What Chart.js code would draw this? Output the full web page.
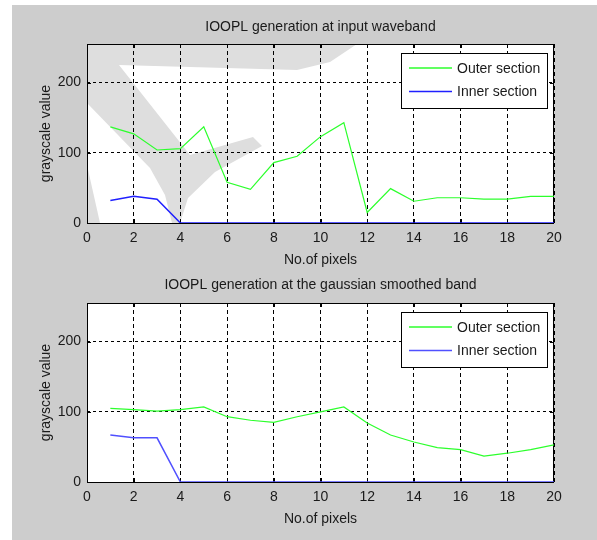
<!DOCTYPE html>
<html>
<head>
<meta charset="utf-8">
<script src="https://cdn.jsdelivr.net/npm/chart.js@4.4.1/dist/chart.umd.min.js"></script>
<style>
  html, body { margin: 0; padding: 0; background: #fff; }
  body { width: 597px; height: 540px; position: relative; overflow: hidden; }
  #figure { position: absolute; left: 12px; top: 5px; right: 0; bottom: 0; background: #cdcdcd; }
  canvas { position: absolute; left: 0; }
  #chartTop { top: 0; }
  #chartBottom { top: 270px; }
</style>
</head>
<body>
<div id="figure"></div>
<canvas id="chartTop" width="597" height="270"></canvas>
<canvas id="chartBottom" width="597" height="270"></canvas>
<script>
// values
const pixels = [1, 2, 3, 4, 5, 6, 7, 8, 9, 10, 11, 12, 13, 14, 15, 16, 17, 18, 19, 20];
const outerInput = [137, 127, 104, 106, 137, 58, 48, 86, 95, 123, 143, 15, 49, 31, 36, 36, 34, 34, 38, 38];
const innerInput = [32, 38, 34, 0, 0, 0, 0, 0, 0, 0, 0, 0, 0, 0, 0, 0, 0, 0, 0, 0];
const outerSmoothed = [105, 103, 101, 103, 107, 93, 88, 85, 93, 100, 107, 84, 67, 57, 49, 46, 37, 41, 46, 53];
const innerSmoothed = [67, 63, 63, 0, 0, 0, 0, 0, 0, 0, 0, 0, 0, 0, 0, 0, 0, 0, 0, 0];
const xTicks = [0, 2, 4, 6, 8, 10, 12, 14, 16, 18, 20];
const yTicks = [0, 100, 200];

const FONT = '"Liberation Sans", Arial, sans-serif';
Chart.defaults.font.family = FONT;
Chart.defaults.font.size = 14;
Chart.defaults.color = '#1a1a1a';

// faint watermark shapes that show through the upper axes (canvas px)
const markShapes = [
  [[87, 44], [357, 44], [330, 62], [297, 70], [119, 65], [190, 155], [253, 137], [262, 146],
   [215, 172], [188, 198], [180, 223], [172, 223], [165, 195], [150, 168], [87, 103]],
  [[87, 165], [100, 223], [87, 223]],
];

// white axes background, solid box and inward ticks like matlab
const axesBox = {
  id: 'axesBox',
  beforeDraw(chart, args, opts) {
    const { ctx, chartArea: a } = chart;
    ctx.save();
    ctx.fillStyle = '#fff';
    ctx.fillRect(a.left, a.top, a.width, a.height);
    if (opts.mark) {
      ctx.beginPath();
      ctx.rect(a.left, a.top, a.width, a.height);
      ctx.clip();
      ctx.fillStyle = '#dedede';
      opts.mark.forEach(poly => {
        ctx.beginPath();
        poly.forEach(([px, py], i) => (i ? ctx.lineTo(px, py) : ctx.moveTo(px, py)));
        ctx.closePath();
        ctx.fill();
      });
    }
    ctx.restore();
  },
  beforeDatasetsDraw(chart) {
    const { ctx, chartArea: a, scales: { x, y } } = chart;
    ctx.save();
    ctx.strokeStyle = '#000';
    ctx.lineWidth = 1;
    ctx.setLineDash([]);
    ctx.beginPath();
    x.ticks.forEach(t => {
      const px = Math.round(x.getPixelForValue(t.value)) + 0.5;
      ctx.moveTo(px, a.bottom); ctx.lineTo(px, a.bottom - 4);
      ctx.moveTo(px, a.top); ctx.lineTo(px, a.top + 4);
    });
    y.ticks.forEach(t => {
      const py = Math.round(y.getPixelForValue(t.value)) + 0.5;
      ctx.moveTo(a.left, py); ctx.lineTo(a.left + 4, py);
      ctx.moveTo(a.right, py); ctx.lineTo(a.right - 4, py);
    });
    ctx.stroke();
    ctx.strokeRect(Math.round(a.left) + 0.5, Math.round(a.top) + 0.5,
      Math.round(a.width) - 1, Math.round(a.height));
    ctx.restore();
  }
};

// boxed legend in the upper right corner of the axes
const boxLegend = {
  id: 'boxLegend',
  afterDatasetsDraw(chart) {
    const { ctx, chartArea: a } = chart;
    const sets = chart.data.datasets;
    ctx.save();
    ctx.font = '14px ' + FONT;
    const textW = Math.max(...sets.map(d => ctx.measureText(d.label).width));
    const w = Math.round(8 + 43 + 5 + textW + 7);
    const h = 55;
    const left = Math.round(a.right - 7 - w);
    const top = Math.round(a.top + 9);
    ctx.fillStyle = '#fff';
    ctx.fillRect(left, top, w, h);
    ctx.strokeStyle = '#000';
    ctx.lineWidth = 1;
    ctx.strokeRect(left + 0.5, top + 0.5, w, h);
    sets.forEach((d, i) => {
      const yy = top + 15 + i * 23.5;
      ctx.strokeStyle = d.borderColor;
      ctx.lineWidth = 1.5;
      ctx.beginPath();
      ctx.moveTo(left + 8, yy);
      ctx.lineTo(left + 51, yy);
      ctx.stroke();
      ctx.fillStyle = '#1a1a1a';
      ctx.textBaseline = 'middle';
      ctx.textAlign = 'left';
      ctx.fillText(d.label, left + 56, yy + 1);
    });
    ctx.restore();
  }
};

function toPoints(values) {
  return pixels.map((p, i) => ({ x: p, y: values[i] }));
}

function makeChart(id, title, outer, inner, blue, titlePad, bottomPad, mark) {
  return new Chart(document.getElementById(id), {
    type: 'line',
    data: {
      datasets: [
        {
          label: 'Outer section',
          data: toPoints(outer),
          borderColor: '#2cff2c',
          borderWidth: 1.2,
          pointRadius: 0,
          tension: 0,
        },
        {
          label: 'Inner section',
          data: toPoints(inner),
          borderColor: blue,
          borderWidth: 1.5,
          pointRadius: 0,
          tension: 0,
        },
      ],
    },
    options: {
      responsive: false,
      animation: false,
      layout: {
        padding: { left: 0, right: 43, top: 0, bottom: bottomPad },
      },
      scales: {
        x: {
          type: 'linear',
          min: 0,
          max: 20,
          afterBuildTicks: (s) => { s.ticks = xTicks.map(v => ({ value: v })); },
          afterFit: (s) => { s.height = 46; },
          grid: { color: '#000', lineWidth: 1, drawTicks: false },
          border: { display: false, dash: [4, 3] },
          ticks: { padding: 7, maxRotation: 0, autoSkip: false, color: '#1a1a1a' },
          title: { display: true, text: 'No.of pixels', padding: 0, color: '#1a1a1a' },
        },
        y: {
          type: 'linear',
          min: 0,
          max: 255,
          afterBuildTicks: (s) => { s.ticks = yTicks.map(v => ({ value: v })); },
          afterFit: (s) => { s.width = 87; },
          grid: { color: '#000', lineWidth: 1, drawTicks: false },
          border: { display: false, dash: [3, 3] },
          ticks: { padding: 6, color: '#1a1a1a' },
          title: {
            display: true,
            text: 'grayscale value',
            padding: { top: 37.6, bottom: 0 },
            color: '#1a1a1a',
          },
        },
      },
      plugins: {
        legend: { display: false },
        tooltip: { enabled: false },
        axesBox: { mark },
        title: {
          display: true,
          fullSize: false,
          text: title,
          color: '#1a1a1a',
          font: { size: 14, weight: 'normal' },
          padding: titlePad,
        },
      },
    },
    plugins: [axesBox, boxLegend],
  });
}

makeChart('chartTop', 'IOOPL generation at input waveband',
  outerInput, innerInput, '#2020ff', { top: 19, bottom: 8.2 }, 1, markShapes);
makeChart('chartBottom', 'IOOPL generation at the gaussian smoothed band',
  outerSmoothed, innerSmoothed, '#5050ff', { top: 6.5, bottom: 9.7 }, 12, null);
</script>
</body>
</html>
